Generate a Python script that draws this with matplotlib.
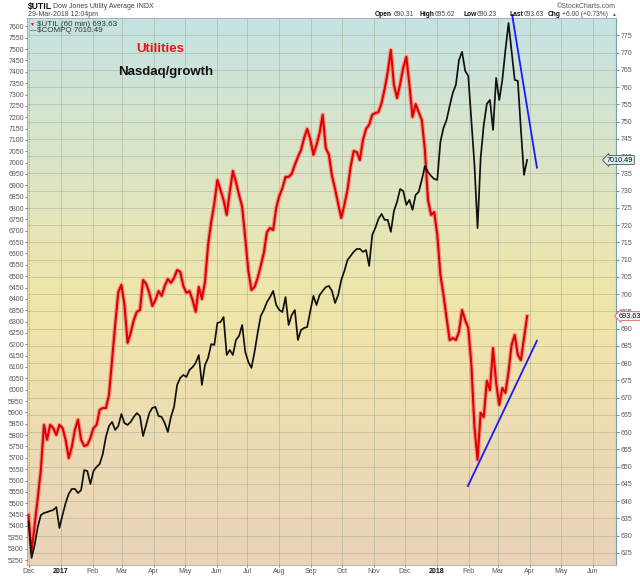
import numpy as np
import pandas as pd
import matplotlib
matplotlib.use("Agg")
import matplotlib.pyplot as plt
from matplotlib.colors import LinearSegmentedColormap

plt.rcParams['font.family'] = ['Liberation Sans', 'DejaVu Sans']

# ---------------- data ----------------
dates = pd.date_range('2016-11-30 10:00', '2018-03-29 12:00', periods=162)

compq = [5417, 5259, 5316, 5395, 5448, 5457, 5461, 5466, 5470, 5483,
         5391, 5448, 5501, 5541, 5563, 5563, 5545, 5558, 5646, 5642,
         5585, 5642, 5660, 5673, 5717, 5792, 5840, 5858, 5823, 5840,
         5893, 5853, 5845, 5858, 5880, 5897, 5884, 5796, 5845, 5897,
         5920, 5924, 5884, 5880, 5853, 5814, 5880, 5924, 6021, 6052,
         6065, 6056, 6087, 6100, 6118, 6153, 6021, 6109, 6140, 6201,
         6197, 6294, 6298, 6320, 6153, 6175, 6153, 6219, 6237, 6285,
         6166, 6122, 6096, 6166, 6250, 6325, 6351, 6386, 6408, 6435,
         6373, 6351, 6342, 6408, 6285, 6329, 6351, 6219, 6263, 6272,
         6276, 6347, 6413, 6373, 6417, 6435, 6452, 6457, 6435, 6382,
         6417, 6483, 6523, 6571, 6589, 6607, 6620, 6620, 6607, 6615,
         6545, 6682, 6712, 6752, 6774, 6748, 6748, 6695, 6787, 6827,
         6884, 6875, 6814, 6836, 6792, 6858, 6871, 6924, 6985, 6959,
         6941, 6928, 6924, 7091, 7153, 7188, 7250, 7307, 7342, 7452,
         7488, 7404, 7382, 7188, 6990, 6712, 7021, 7166, 7259, 7276,
         7144, 7373, 7276, 7364, 7496, 7615, 7488, 7364, 7360, 7144,
         6946, 7012]

util = [636.0, 625.3, 633.1, 640.9, 649.1, 662.1, 657.8, 662.1, 661.2, 659.2,
        662.1, 661.2, 657.8, 652.5, 655.7, 660.7, 663.6, 657.8, 656.0, 656.3,
        658.3, 661.2, 662.1, 666.5, 667.0, 667.0, 670.8, 680.9, 691.1, 700.6,
        702.7, 696.9, 685.9, 688.8, 692.5, 694.9, 695.4, 704.1, 703.0, 700.4,
        696.6, 698.3, 700.9, 699.5, 702.4, 704.4, 703.3, 704.7, 707.0, 706.5,
        702.4, 700.4, 700.9, 698.3, 694.9, 702.1, 698.6, 703.6, 714.3, 720.9,
        726.2, 733.1, 730.2, 727.3, 723.0, 729.6, 735.7, 732.5, 728.8, 725.3,
        716.3, 706.7, 701.2, 702.1, 704.7, 708.2, 712.0, 718.0, 719.2, 718.6,
        725.0, 728.5, 730.8, 734.0, 734.0, 734.9, 737.5, 739.8, 741.8, 745.3,
        747.9, 745.0, 740.4, 743.3, 746.7, 752.0, 742.4, 740.4, 734.3, 730.5,
        726.2, 722.1, 725.9, 730.2, 736.9, 741.5, 741.2, 738.9, 744.7, 747.9,
        749.1, 752.0, 752.5, 752.8, 755.4, 759.5, 764.4, 770.8, 760.7, 756.9,
        760.9, 765.6, 768.8, 760.7, 751.4, 755.1, 752.8, 750.5, 741.8, 727.3,
        723.0, 723.8, 717.2, 705.6, 699.8, 693.1, 686.7, 687.3, 686.7, 689.1,
        695.4, 692.5, 690.2, 679.5, 661.5, 652.0, 665.6, 664.4, 674.9, 672.2,
        684.4, 674.3, 667.9, 672.8, 671.4, 677.5, 685.3, 688.2, 682.4, 680.9,
        687.3, 693.6]

# hand-drawn trend lines (annotation)
util_trend_dates = ['2018-01-31', '2018-04-08']
util_trend_vals = [644.4, 686.5]
compq_trend_dates = ['2018-03-15', '2018-04-08']
compq_trend_vals = [7650, 6978]

month_ticks = pd.date_range('2016-12-01', '2018-06-01', freq='MS')
month_labels = ['Dec', '2017', 'Feb', 'Mar', 'Apr', 'May', 'Jun', 'Jul', 'Aug',
                'Sep', 'Oct', 'Nov', 'Dec', '2018', 'Feb', 'Mar', 'Apr', 'May', 'Jun']

left_ticks = np.arange(5250, 7601, 50)
right_ticks = np.arange(625, 776, 5)

# ---------------- figure ----------------
W, H = 640, 576
fig = plt.figure(figsize=(6.4, 5.76), dpi=100)
L, R, T, B = 27, 616, 18, 565
ax1 = fig.add_axes([L / W, 1 - B / H, (R - L) / W, (B - T) / H])

# gradient background
stops = [(0.0, (197, 227, 228)), (0.15, (210, 228, 210)), (0.30, (222, 229, 195)),
         (0.45, (235, 230, 175)), (0.55, (241, 229, 168)), (0.75, (237, 220, 178)),
         (1.0, (234, 211, 186))]
cmap = LinearSegmentedColormap.from_list('bg', [(p, tuple(c / 255 for c in col)) for p, col in stops])
grad = np.linspace(0, 1, 256).reshape(-1, 1)
ax1.imshow(grad, cmap=cmap, aspect='auto', extent=[0, 1, 0, 1],
           transform=ax1.transAxes, zorder=0, interpolation='bicubic')

xmin = pd.Timestamp('2016-11-29 00:00')
xmax = pd.Timestamp('2018-06-23 19:00')

ax1.plot(dates, util, color='#ee9a88', lw=3.2, zorder=3)
ax1.plot(dates, util, color='#e00000', lw=1.5, zorder=4)
ax1.plot(pd.to_datetime(util_trend_dates), util_trend_vals, color='#1a1aff', lw=1.3, zorder=5)
ax1.set_xlim(xmin, xmax)
ax1.set_ylim(621.5, 780.07)
ax1.set_xticks(month_ticks)
ax1.set_xticklabels(month_labels)
ax1.grid(True, color='#9aa58a', alpha=0.45, lw=0.7)
ax1.tick_params(axis='x', labelsize=5, colors='#555555', length=1.5, pad=0.8, width=0.5)
for lab in ax1.get_xticklabels():
    if lab.get_text() in ('2017', '2018'):
        lab.set_fontweight('bold')
        lab.set_color('#111111')
for s in ['top', 'bottom', 'left']:
    ax1.spines[s].set_color('#a0a8a8')
    ax1.spines[s].set_linewidth(0.6)
ax1.spines['right'].set_linestyle((0, (1, 1)))
ax1.spines['right'].set_color('#7aa0b0')
ax1.spines['right'].set_linewidth(0.8)

ax2 = ax1.twinx()
ax2.plot(dates, compq, color='#111111', lw=1.25, zorder=6)
ax2.plot(pd.to_datetime(compq_trend_dates), compq_trend_vals, color='#1a1aff',
         lw=1.3, zorder=7, clip_on=False)
ax2.set_xlim(xmin, xmax)
ax2.set_ylim(5228, 7637)
for s in ax2.spines.values():
    s.set_visible(False)

# right axis: UTIL ; left axis: COMPQ (set after twinx, which resets sides)
ax1.yaxis.tick_right()
ax1.yaxis.set_label_position('right')
ax1.set_yticks(right_ticks)
ax1.set_yticklabels([str(v) for v in right_ticks])
ax1.tick_params(axis='y', which='both', left=False, labelleft=False, right=True,
                labelright=True, labelsize=5, colors='#555555', length=2, pad=1, width=0.5)

ax2.yaxis.tick_left()
ax2.yaxis.set_label_position('left')
ax2.set_yticks(left_ticks)
ax2.set_yticklabels([str(v) for v in left_ticks])
ax2.tick_params(axis='y', which='both', right=False, labelright=False, left=True,
                labelleft=True, labelsize=5, colors='#555555', length=1.5, pad=0.8, width=0.5)

# ---------------- texts ----------------
def ft(x, y, s, **kw):
    return fig.text(x / W, 1 - y / H, s, va='center', **kw)

ft(28, 7, '$UTIL', fontsize=6.2, fontweight='bold', color='#111111')
ft(53, 7, 'Dow Jones Utility Average INDX', fontsize=5, color='#444444')
ft(28, 14.5, '29-Mar-2018 12:04pm', fontsize=5, color='#444444')
ft(616, 6, '\u00a9StockCharts.com', fontsize=5, color='#555555', ha='right')

hdr = [(375, 'Open', True), (394, '690.31', False), (420, 'High', True), (435, '695.62', False),
       (463, 'Low', True), (477, '690.23', False), (509, 'Last', True), (524, '693.63', False),
       (548, 'Chg', True), (562, '+6.00 (+0.73%)', False)]
for x, s, b in hdr:
    ft(x, 14.5, s, fontsize=4.8, fontweight='bold' if b else 'normal',
       color='#111111' if b else '#444444')
ft(611, 14.5, '\u25b2', fontsize=3.5, color='#228822')

ft(37, 24, '$UTIL (60 min) 693.63', fontsize=5.8, color='#333333')
ft(29.5, 24, '\u25bc', fontsize=3.5, color='#e00000')
ft(37, 30.5, '$COMPQ 7010.49', fontsize=5.8, color='#333333')
ft(29.5, 30.5, '\u2014', fontsize=4.5, color='#111111')

ft(160, 49, 'Utilities', fontsize=9.5, fontweight='bold', color='#ee1111', ha='center')
ft(166, 72, 'Nasdaq/growth', fontsize=9.5, fontweight='bold', color='#111111', ha='center')

ft(607, 160, '7010.49', fontsize=5.2, color='#111111', zorder=10,
   bbox=dict(boxstyle='larrow,pad=0.12', fc='#d6f2f4', ec='#333333', lw=0.5))
ft(619, 316, '693.63', fontsize=5.2, color='#111111', zorder=10,
   bbox=dict(boxstyle='larrow,pad=0.12', fc='#f4f4f4', ec='#e06060', lw=0.6))

fig.savefig('out.png', dpi=100)
